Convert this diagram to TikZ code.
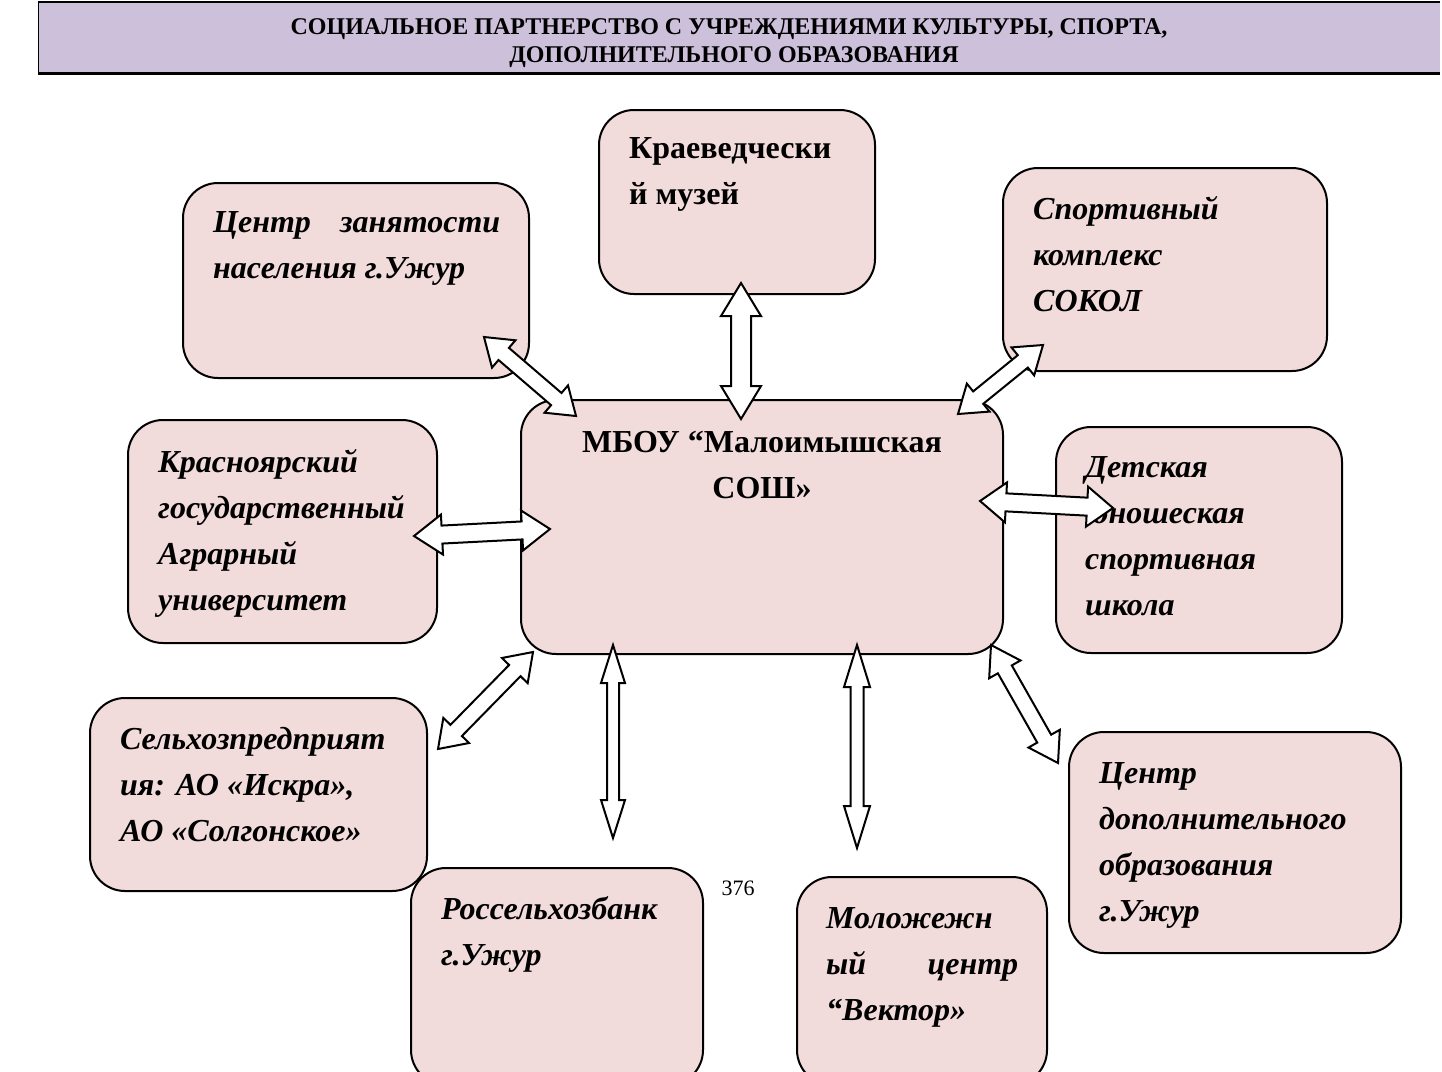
\documentclass[tikz,border=0pt]{standalone}
\usepackage{fontspec}
\setmainfont{Liberation Serif}
\usetikzlibrary{calc}
\definecolor{boxpink}{HTML}{F2DCDB}
\definecolor{headlav}{HTML}{CCC0DA}
\tikzset{
  pbox/.style={draw=black, line width=2pt, fill=boxpink, rounded corners=35pt},
  btxt/.style={anchor=north west, inner sep=0pt, align=left, font=\fontsize{32}{46}\selectfont\bfseries\itshape},
  rtxt/.style={anchor=north west, inner sep=0pt, align=left, font=\fontsize{32}{46}\selectfont\bfseries},
  htxt/.style={inner sep=0pt, font=\fontsize{24}{28}\selectfont\bfseries},
  arrowshape/.style={draw=black, line width=2pt, fill=white, line join=miter},
}
\newcommand{\dblarr}[5]{%
  \coordinate (pA) at ($(#1)!#5!(#2)$);
  \coordinate (pB) at ($(#2)!#5!(#1)$);
  \draw[arrowshape] (#1) -- ($(pA)!#4!90:(#2)$) -- ($(pA)!#3!90:(#2)$) -- ($(pB)!#3!-90:(#1)$) -- ($(pB)!#4!-90:(#1)$) -- (#2) -- ($(pB)!#4!90:(#1)$) -- ($(pB)!#3!90:(#1)$) -- ($(pA)!#3!-90:(#2)$) -- ($(pA)!#4!-90:(#2)$) -- cycle;}
\newcommand{\lnst}{\strut}
\begin{document}
\begin{tikzpicture}[x=1pt,y=-1pt]
\useasboundingbox (0,0) rectangle (1442,1071);
% header
\fill[headlav] (38,2) rectangle (1440,73);
\draw[line width=1.5pt] (38,2) -- (1440,2);
\draw[line width=1pt] (38,2) -- (38,73);
\draw[line width=3pt] (38,73) -- (1440,73);
\node[htxt] (h1) at (729,29) {СОЦИАЛЬНОЕ ПАРТНЕРСТВО С УЧРЕЖДЕНИЯМИ КУЛЬТУРЫ, СПОРТА,};
\node[htxt] (h2) at (734,57) {ДОПОЛНИТЕЛЬНОГО ОБРАЗОВАНИЯ};

% boxes
\draw[pbox] (183,183) rectangle (529,378);
\node[inner sep=0pt] (b1) at (356,280.5) {};
\draw[pbox] (599,110) rectangle (875,294);
\node[inner sep=0pt] (b2) at (737,202) {};
\draw[pbox] (1003,168) rectangle (1327,371);
\node[inner sep=0pt] (b3) at (1165,270) {};
\draw[pbox] (128,420) rectangle (437,643);
\node[inner sep=0pt] (b4) at (282,531) {};
\draw[pbox] (521,400) rectangle (1003,654);
\node[inner sep=0pt] (b5) at (762,527) {};
\draw[pbox] (1056,427) rectangle (1342,653);
\node[inner sep=0pt] (b6) at (1199,540) {};
\draw[pbox] (90,698) rectangle (427,891);
\node[inner sep=0pt] (b7) at (258,795) {};
\draw[pbox] (411,868) rectangle (703,1085);
\node[inner sep=0pt] (b8) at (557,970) {};
\draw[pbox] (797,877) rectangle (1047,1085);
\node[inner sep=0pt] (b9) at (922,975) {};
\draw[pbox] (1069,732) rectangle (1401,953);
\node[inner sep=0pt] (b10) at (1235,842) {};

% texts
\node[btxt] (t1) at (213,200) {\hbox to 287pt{Центр\hfill занятости}\lnst\\ населения г.Ужур\lnst};
\node[rtxt] (t2) at (629,126) {Краеведчески\lnst\\ й музей\lnst};
\node[btxt] (t3) at (1033,187) {Спортивный\lnst\\ комплекс\lnst\\ СОКОЛ\lnst};
\node[btxt] (t4) at (158,440) {Красноярский\lnst\\ государственный\lnst\\ Аграрный\lnst\\ университет\lnst};
\node[inner sep=0pt, align=center, font=\fontsize{32}{46}\selectfont\bfseries] (t5) at (762,466) {МБОУ “Малоимышская\lnst\\ СОШ»\lnst};
\node[btxt] (t6) at (1085,445) {Детская\lnst\\ юношеская\lnst\\ спортивная\lnst\\ школа\lnst};
\node[btxt] (t7) at (120,717) {Сельхозпредприят\lnst\\ ия: АО «Искра»,\lnst\\ АО «Солгонское»\lnst};
\node[btxt] (t8) at (441,887) {Россельхозбанк\lnst\\ г.Ужур\lnst};
\node[btxt] (t9) at (826,896) {Моложежн\lnst\\ \hbox to 192pt{ый\hfill центр}\lnst\\ “Вектор»\lnst};
\node[btxt] (t10) at (1099,751) {Центр\lnst\\ дополнительного\lnst\\ образования\lnst\\ г.Ужур\lnst};
\node[inner sep=0pt, font=\fontsize{22}{26}\selectfont] (pg) at (738,888) {376};

% arrow endpoints
\coordinate (a1s) at (484,337); \coordinate (a1e) at (576,416);
\coordinate (a2s) at (741,283); \coordinate (a2e) at (741,419);
\coordinate (a3s) at (1043,345); \coordinate (a3e) at (958,414);
\coordinate (a4s) at (980,501); \coordinate (a4e) at (1113,508);
\coordinate (a5s) at (414,536); \coordinate (a5e) at (550,529);
\coordinate (a6s) at (438,749); \coordinate (a6e) at (533,652);
\coordinate (a7s) at (613,645); \coordinate (a7e) at (613,838);
\coordinate (a8s) at (857,645); \coordinate (a8e) at (857,848);
\coordinate (a9s) at (991,645); \coordinate (a9e) at (1058,763);

\dblarr{a1s}{a1e}{8pt}{18pt}{26pt}
\dblarr{a2s}{a2e}{10pt}{20pt}{33pt}
\dblarr{a3s}{a3e}{8pt}{18pt}{26pt}
\dblarr{a4s}{a4e}{9pt}{20pt}{26pt}
\dblarr{a5s}{a5e}{9pt}{20pt}{28pt}
\dblarr{a6s}{a6e}{8pt}{18pt}{26pt}
\dblarr{a7s}{a7e}{6pt}{12pt}{38pt}
\dblarr{a8s}{a8e}{6.5pt}{13pt}{42pt}
\dblarr{a9s}{a9e}{8pt}{18pt}{28pt}
\end{tikzpicture}
\end{document}
